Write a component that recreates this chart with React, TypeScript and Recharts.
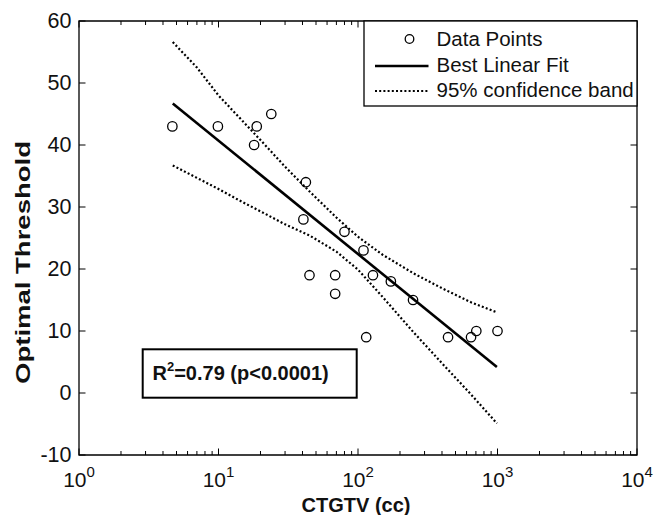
import React from 'react';
import { ScatterChart, Scatter, XAxis, YAxis, ReferenceArea } from 'recharts';

// ---- data ----
const pointX = [4.67, 9.9, 18.8, 18.0, 23.9, 42.3, 40.6, 44.9, 68.6, 68.6, 80, 109.5, 114.5, 128, 172, 248, 442, 646, 705, 1000];
const pointY = [43, 43, 43, 40, 45, 34, 28, 19, 19, 16, 26, 23, 9, 19, 18, 15, 9, 9, 10, 10];

const fitX = [4.7, 990];
const fitY = [46.7, 4.2];

const bandX = [4.7, 7, 10, 14, 20, 30, 45, 70, 100, 150, 250, 400, 650, 990];
const upperY = [56.6, 52.5, 48.0, 44.5, 40.8, 36.5, 32.5, 28.3, 25.2, 22.3, 19.3, 16.9, 14.6, 13.0];
const lowerY = [36.7, 34.7, 32.9, 31.1, 29.3, 27.2, 25.4, 22.8, 19.9, 15.5, 9.8, 4.8, -0.3, -4.9];

const xMajorTicks = [1, 10, 100, 1000, 10000];
const xMajorExponents = ['0', '1', '2', '3', '4'];
const xMinorTicks = [2, 3, 4, 5, 6, 7, 8, 9, 20, 30, 40, 50, 60, 70, 80, 90, 200, 300, 400, 500, 600, 700, 800, 900, 2000, 3000, 4000, 5000, 6000, 7000, 8000, 9000];
const yTicks = [-10, 0, 10, 20, 30, 40, 50, 60];

const legendLabels = ['Data Points', 'Best Linear Fit', '95% confidence band'];
const statText = { base: 'R', sup: '2', rest: '=0.79 (p<0.0001)' };
const xTitle = 'CTGTV (cc)';
const yTitle = 'Optimal Threshold';

// ---- layout ----
const W = 664;
const H = 515;
const PLOT_LEFT = 79;
const PLOT_RIGHT = 637;
const PLOT_TOP = 21;
const PLOT_BOTTOM = 455;
const FONT = '"Liberation Sans", Arial, Helvetica, sans-serif';

const points = pointX.map((x, i) => ({ x, y: pointY[i] }));
const fit = fitX.map((x, i) => ({ x, y: fitY[i] }));
const upper = bandX.map((x, i) => ({ x, y: upperY[i] }));
const lower = bandX.map((x, i) => ({ x, y: lowerY[i] }));
const allXTicks = [...xMajorTicks, ...xMinorTicks].sort((a, b) => a - b);

const XTick = (props: any) => {
  const { x, y, payload } = props;
  const v = payload.value;
  const idx = xMajorTicks.indexOf(v);
  const major = idx >= 0;
  const len = major ? 6.5 : 4;
  return (
    <g>
      <line x1={x} y1={y} x2={x} y2={y - len} stroke="#000" strokeWidth={1} />
      <line x1={x} y1={PLOT_TOP} x2={x} y2={PLOT_TOP + len} stroke="#000" strokeWidth={1} />
      {major && (
        <text x={x} y={y + 31.5} textAnchor="middle" fontFamily={FONT} fontSize={21} fill="#111">
          10
          <tspan dy={-10} fontSize={15}>{xMajorExponents[idx]}</tspan>
        </text>
      )}
    </g>
  );
};

const YTick = (props: any) => {
  const { x, y, payload } = props;
  return (
    <g>
      <line x1={x} y1={y} x2={x + 6.5} y2={y} stroke="#000" strokeWidth={1} />
      <line x1={PLOT_RIGHT} y1={y} x2={PLOT_RIGHT - 6.5} y2={y} stroke="#000" strokeWidth={1} />
      <text x={x - 7.5} y={y} dy="0.34em" textAnchor="end" fontFamily={FONT} fontSize={21.5} fill="#111">
        {payload.value}
      </text>
    </g>
  );
};

const OpenCircle = (props: any) => {
  const { cx, cy } = props;
  if (cx == null || cy == null) return <g />;
  return <circle cx={cx} cy={cy} r={4.7} fill="none" stroke="#000" strokeWidth={1.3} />;
};

const NoShape = () => <g />;

const LEG_L = 364;
const LEG_B = 106;
const DOTS = { stroke: '#000', strokeWidth: 2.2, strokeDasharray: '2 2.2' };

export default function App() {
  return (
    <div style={{ position: 'absolute', left: 0, top: 0, width: W, height: H, background: '#fff' }}>
      <ScatterChart
        width={W}
        height={H}
        margin={{ top: PLOT_TOP, right: W - PLOT_RIGHT, left: 0, bottom: 0 }}
      >
        <XAxis
          dataKey="x"
          type="number"
          scale="log"
          domain={[1, 10000]}
          ticks={allXTicks}
          interval={0}
          allowDataOverflow
          height={H - PLOT_BOTTOM}
          tickSize={0}
          tickMargin={0}
          tickLine={false}
          axisLine={false}
          tick={<XTick />}
        />
        <YAxis
          dataKey="y"
          type="number"
          domain={[-10, 60]}
          ticks={yTicks}
          interval={0}
          allowDataOverflow
          width={PLOT_LEFT}
          tickSize={0}
          tickMargin={0}
          tickLine={false}
          axisLine={false}
          tick={<YTick />}
        />
        <ReferenceArea x1={1} x2={10000} y1={-10} y2={60} fill="none" stroke="#000" strokeWidth={1.3} ifOverflow="visible" />
        <Scatter data={upper} shape={NoShape} line={DOTS} isAnimationActive={false} />
        <Scatter data={lower} shape={NoShape} line={DOTS} isAnimationActive={false} />
        <Scatter data={fit} shape={NoShape} line={{ stroke: '#000', strokeWidth: 2.6 }} isAnimationActive={false} />
        <Scatter data={points} shape={OpenCircle} isAnimationActive={false} />
      </ScatterChart>

      <svg width={W} height={H} style={{ position: 'absolute', left: 0, top: 0, pointerEvents: 'none' }}>
        {/* legend */}
        <rect x={LEG_L} y={PLOT_TOP} width={PLOT_RIGHT - LEG_L} height={LEG_B - PLOT_TOP} fill="#fff" stroke="#000" strokeWidth={1.3} />
        <circle cx={409.5} cy={39} r={4.3} fill="none" stroke="#000" strokeWidth={1.3} />
        <line x1={375} y1={66} x2={428.5} y2={66} stroke="#000" strokeWidth={2.6} />
        <line x1={375} y1={91} x2={428.5} y2={91} {...DOTS} />
        {legendLabels.map((t, i) => (
          <text key={t} x={436.5} y={46 + i * 25.7} fontFamily={FONT} fontSize={20.5} fill="#111">
            {t}
          </text>
        ))}

        {/* statistics box */}
        <rect x={142.7} y={349.3} width={214} height={48.4} fill="#fff" stroke="#000" strokeWidth={2} />
        <text x={152.5} y={380} fontFamily={FONT} fontSize={20} fontWeight="bold" fill="#111">
          {statText.base}
          <tspan dy={-9} fontSize={13}>{statText.sup}</tspan>
          <tspan dy={9}>{statText.rest}</tspan>
        </text>

        {/* axis titles */}
        <text x={356} y={512} textAnchor="middle" fontFamily={FONT} fontSize={20} fontWeight="bold" fill="#111">
          {xTitle}
        </text>
        <text
          x={0}
          y={0}
          transform="translate(29.5, 262.5) rotate(-90)"
          textAnchor="middle"
          fontFamily={FONT}
          fontSize={20}
          fontWeight="bold"
          fill="#111"
          textLength={243}
          lengthAdjust="spacingAndGlyphs"
        >
          {yTitle}
        </text>
      </svg>
    </div>
  );
}
